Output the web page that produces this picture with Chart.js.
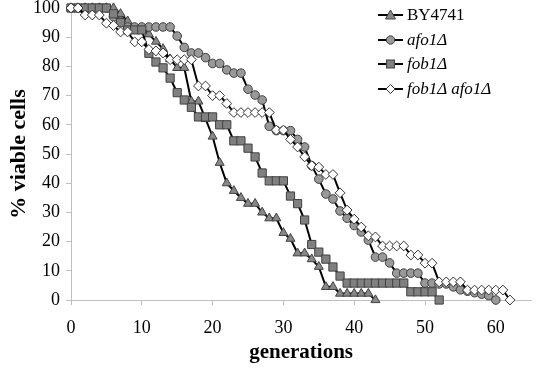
<!DOCTYPE html>
<html lang="en">
<head>
<meta charset="UTF-8">
<title>% viable cells by generation</title>
<script src="https://cdn.jsdelivr.net/npm/chart.js@4/dist/chart.umd.min.js"></script>
<style>
    html, body { margin: 0; padding: 0; background: #fff; }
    .wrap { position: relative; width: 538px; height: 371px; }
    #legend {
        position: absolute; left: 378px; top: 3px;
        font-family: "Liberation Serif", "Times New Roman", serif;
        font-size: 17px; color: #000;
    }
    .item { display: flex; align-items: center; height: 24.5px; white-space: nowrap; }
    .item svg { margin-right: 4px; }
    .it { font-style: italic; }
</style>
</head>
<body>
<div class="wrap">
    <canvas id="chart" width="538" height="371"></canvas>
    <div id="legend">
        <div class="item">
            <svg width="25" height="12"><line x1="0" y1="6" x2="25" y2="6" stroke="#000" stroke-width="2"/><polygon points="12.5,1 17.5,10 7.5,10" fill="#888" stroke="#404040" stroke-width="1"/></svg>
            <span>BY4741</span>
        </div>
        <div class="item">
            <svg width="25" height="12"><line x1="0" y1="6" x2="25" y2="6" stroke="#000" stroke-width="2"/><circle cx="12.5" cy="6" r="4.2" fill="#999" stroke="#404040" stroke-width="1"/></svg>
            <span class="it">afo1Δ</span>
        </div>
        <div class="item">
            <svg width="25" height="12"><line x1="0" y1="6" x2="25" y2="6" stroke="#000" stroke-width="2"/><rect x="8.5" y="2" width="8" height="8" fill="#808080" stroke="#404040" stroke-width="1"/></svg>
            <span class="it">fob1Δ</span>
        </div>
        <div class="item">
            <svg width="25" height="12"><line x1="0" y1="6" x2="25" y2="6" stroke="#000" stroke-width="2"/><polygon points="12.5,1.5 17,6 12.5,10.5 8,6" fill="#fff" stroke="#333" stroke-width="1"/></svg>
            <span class="it">fob1Δ afo1Δ</span>
        </div>
    </div>
</div>
<script>
    // generation number for each position in the series below
    const generations = [0,1,2,3,4,5,6,7,8,9,10,11,12,13,14,15,16,17,18,19,20,21,22,23,24,25,26,27,28,29,30,
        31,32,33,34,35,36,37,38,39,40,41,42,43,44,45,46,47,48,49,50,51,52,53,54,55,56,57,58,59,60,61,62];

    const by4741 = [100,100,100,100,100,100,100,98,95.5,93,93,91,88.5,86,82.5,79.5,79.5,68,68,62,56,47,40,37.4,35,33,33,
        30,28,28,23,21,16,16,14,11.4,4.5,4.5,2.2,2.2,2.2,2.2,2.2,0];

    const afo1 = [100,100,100,100,100,100,97,95.5,93.5,93.5,93.5,93.5,93.5,93.5,93.5,90.4,86.5,84.6,84.6,83,81,81,78.8,
        77.7,77.7,72.2,70.2,68.5,59.5,58,58,58,55,52.4,46,41.4,36.3,34.6,30.5,28,25.5,23.3,20.5,14.7,14.7,12.7,
        9.2,9.2,9.2,9.2,5.8,5.8,5.5,5.5,4.5,3.5,3,2.5,2,1.5,0];

    const fob1 = [100,100,100,100,100,100,98,95,92.5,92.5,92.5,84.5,81.5,79.5,76,71,68.5,66,62.7,62.7,62.7,60,60,
        54.5,54.5,52,49,43.5,40.8,40.8,40.8,35.6,33,27.4,19,16.4,14,11.3,8.2,5.8,5.8,5.8,5.8,5.8,5.8,5.8,5.8,5.8,
        2.8,2.8,2.8,2.8,0];

    const fob1afo1 = [100,100,97.6,97.6,97.6,94.8,94,91.8,91.8,88.4,88.4,85.8,85.3,84.6,82.3,82.3,82.3,82.3,73.3,73.3,
        70,70,67.3,64.2,64.2,64.2,64.2,64.2,64.2,58.2,58.2,55,52.4,49,46,45.5,43,43,36.7,30.8,27.7,25,22,21.6,
        18.5,18.5,18.5,18.5,15.4,15.4,12.6,12.6,6.2,6.2,6.2,6.2,3.4,3.4,3.4,3.4,3.4,3.4,0];

    const xTicks = [0, 10, 20, 30, 40, 50, 60];
    const yTicks = [0, 10, 20, 30, 40, 50, 60, 70, 80, 90, 100];

    const serif = '"Liberation Serif", "Times New Roman", serif';
    const axisGrey = '#bfbfbf';

    function points(values) {
        return values.map((v, i) => ({ x: generations[i], y: v }));
    }

    function series(label, values, style, radius, fill, edge, order) {
        return {
            label: label,
            data: points(values),
            borderColor: '#000',
            borderWidth: 2,
            pointStyle: style,
            pointRadius: radius,
            pointBackgroundColor: fill,
            pointBorderColor: edge,
            pointBorderWidth: 1,
            tension: 0,
            clip: false,
            order: order
        };
    }

    new Chart(document.getElementById('chart'), {
        type: 'line',
        data: {
            datasets: [
                series('BY4741', by4741, 'triangle', 5.2, '#888', '#404040', 4),
                series('afo1Δ', afo1, 'circle', 4.3, '#999', '#404040', 3),
                series('fob1Δ', fob1, 'rect', 5.8, '#808080', '#404040', 2),
                series('fob1Δ afo1Δ', fob1afo1, 'rectRot', 4.9, '#fff', '#333', 1)
            ]
        },
        options: {
            responsive: false,
            animation: false,
            devicePixelRatio: 1,
            layout: { padding: { left: 0, right: 6, top: 8, bottom: 6 } },
            plugins: {
                legend: { display: false },
                tooltip: { enabled: false }
            },
            scales: {
                x: {
                    type: 'linear',
                    min: 0,
                    max: 65,
                    border: { color: axisGrey, width: 1 },
                    grid: { drawOnChartArea: false, drawTicks: true, tickLength: 5, color: axisGrey },
                    ticks: { font: { family: serif, size: 18 }, color: '#000', padding: 12, maxRotation: 0 },
                    afterBuildTicks: s => { s.ticks = xTicks.map(v => ({ value: v })); },
                    afterFit: s => { s.height = 65; s.paddingLeft = 0; s.paddingRight = 0; },
                    title: {
                        display: true, text: 'generations', color: '#000',
                        font: { family: serif, size: 21, weight: 'bold' },
                        padding: { top: 0, bottom: 0 }
                    }
                },
                y: {
                    min: 0,
                    max: 100,
                    border: { color: axisGrey, width: 1 },
                    grid: { drawOnChartArea: false, drawTicks: true, tickLength: 5, color: axisGrey },
                    ticks: { font: { family: serif, size: 18 }, color: '#000', padding: 6 },
                    afterBuildTicks: s => { s.ticks = yTicks.map(v => ({ value: v })); },
                    afterFit: s => { s.width = 71; s.paddingTop = 0; s.paddingBottom = 0; },
                    title: {
                        display: true, text: '% viable cells', color: '#000',
                        font: { family: serif, size: 22, weight: 'bold' },
                        padding: { top: 6, bottom: 0 }
                    }
                }
            }
        }
    });
</script>
</body>
</html>
